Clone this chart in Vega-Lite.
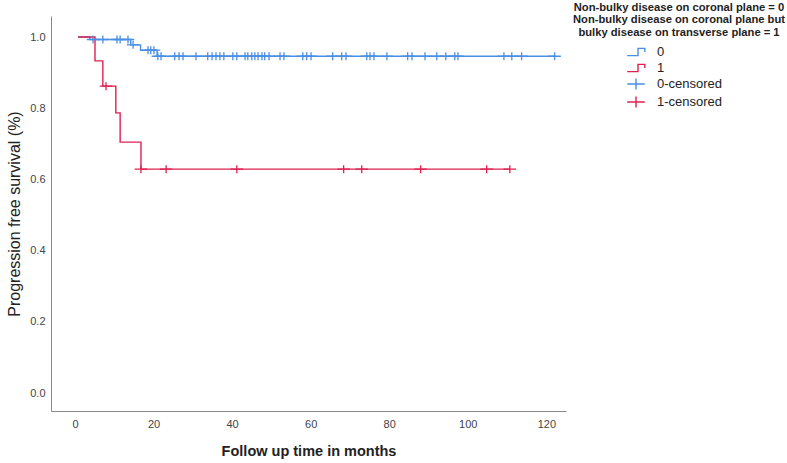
{
  "$schema": "https://vega.github.io/schema/vega-lite/v6.json",
  "width": 515,
  "height": 395,
  "autosize": {"type": "none"},
  "padding": {"left": 51, "top": 16, "right": 221, "bottom": 52},
  "background": "white",
  "title": {
    "text": ["Non-bulky disease on coronal plane = 0", "Non-bulky disease on coronal plane but", "bulky disease on transverse plane = 1"],
    "anchor": "start",
    "frame": "group",
    "align": "center",
    "dx": 628,
    "dy": 26,
    "offset": 4,
    "font": "Liberation Sans",
    "fontSize": 11.2,
    "fontWeight": "bold",
    "color": "#222222",
    "lineHeight": 12.5
  },
  "datasets": {
    "curves": [
      {"time": 0.8, "surv": 1.0, "label": "0"},
      {"time": 3.8, "surv": 0.993, "label": "0"},
      {"time": 14.2, "surv": 0.978, "label": "0"},
      {"time": 16.7, "surv": 0.963, "label": "0"},
      {"time": 20.9, "surv": 0.946, "label": "0"},
      {"time": 122.1, "surv": 0.946, "label": "0"},
      {"time": 0.8, "surv": 1.0, "label": "1"},
      {"time": 5.1, "surv": 0.933, "label": "1"},
      {"time": 7.1, "surv": 0.862, "label": "1"},
      {"time": 10.4, "surv": 0.787, "label": "1"},
      {"time": 11.5, "surv": 0.705, "label": "1"},
      {"time": 16.8, "surv": 0.629, "label": "1"},
      {"time": 110.7, "surv": 0.629, "label": "1"}
    ],
    "censored": [
      {"time": 4.6, "surv": 0.993, "label": "0-censored"},
      {"time": 7.1, "surv": 0.993, "label": "0-censored"},
      {"time": 10.7, "surv": 0.993, "label": "0-censored"},
      {"time": 11.5, "surv": 0.993, "label": "0-censored"},
      {"time": 13.5, "surv": 0.993, "label": "0-censored"},
      {"time": 14.8, "surv": 0.978, "label": "0-censored"},
      {"time": 18.6, "surv": 0.963, "label": "0-censored"},
      {"time": 19.3, "surv": 0.963, "label": "0-censored"},
      {"time": 20.1, "surv": 0.963, "label": "0-censored"},
      {"time": 21.1, "surv": 0.946, "label": "0-censored"},
      {"time": 21.9, "surv": 0.946, "label": "0-censored"},
      {"time": 25.4, "surv": 0.946, "label": "0-censored"},
      {"time": 26.5, "surv": 0.946, "label": "0-censored"},
      {"time": 27.5, "surv": 0.946, "label": "0-censored"},
      {"time": 30.8, "surv": 0.946, "label": "0-censored"},
      {"time": 33.8, "surv": 0.946, "label": "0-censored"},
      {"time": 34.9, "surv": 0.946, "label": "0-censored"},
      {"time": 35.9, "surv": 0.946, "label": "0-censored"},
      {"time": 36.9, "surv": 0.946, "label": "0-censored"},
      {"time": 37.9, "surv": 0.946, "label": "0-censored"},
      {"time": 40.2, "surv": 0.946, "label": "0-censored"},
      {"time": 41.2, "surv": 0.946, "label": "0-censored"},
      {"time": 43.3, "surv": 0.946, "label": "0-censored"},
      {"time": 44.0, "surv": 0.946, "label": "0-censored"},
      {"time": 45.0, "surv": 0.946, "label": "0-censored"},
      {"time": 45.8, "surv": 0.946, "label": "0-censored"},
      {"time": 46.6, "surv": 0.946, "label": "0-censored"},
      {"time": 47.6, "surv": 0.946, "label": "0-censored"},
      {"time": 48.3, "surv": 0.946, "label": "0-censored"},
      {"time": 49.4, "surv": 0.946, "label": "0-censored"},
      {"time": 52.2, "surv": 0.946, "label": "0-censored"},
      {"time": 53.2, "surv": 0.946, "label": "0-censored"},
      {"time": 58.0, "surv": 0.946, "label": "0-censored"},
      {"time": 59.0, "surv": 0.946, "label": "0-censored"},
      {"time": 60.1, "surv": 0.946, "label": "0-censored"},
      {"time": 65.6, "surv": 0.946, "label": "0-censored"},
      {"time": 67.9, "surv": 0.946, "label": "0-censored"},
      {"time": 69.0, "surv": 0.946, "label": "0-censored"},
      {"time": 74.3, "surv": 0.946, "label": "0-censored"},
      {"time": 75.1, "surv": 0.946, "label": "0-censored"},
      {"time": 76.1, "surv": 0.946, "label": "0-censored"},
      {"time": 79.4, "surv": 0.946, "label": "0-censored"},
      {"time": 84.7, "surv": 0.946, "label": "0-censored"},
      {"time": 85.8, "surv": 0.946, "label": "0-censored"},
      {"time": 89.1, "surv": 0.946, "label": "0-censored"},
      {"time": 92.1, "surv": 0.946, "label": "0-censored"},
      {"time": 94.4, "surv": 0.946, "label": "0-censored"},
      {"time": 96.7, "surv": 0.946, "label": "0-censored"},
      {"time": 97.5, "surv": 0.946, "label": "0-censored"},
      {"time": 109.2, "surv": 0.946, "label": "0-censored"},
      {"time": 111.2, "surv": 0.946, "label": "0-censored"},
      {"time": 113.7, "surv": 0.946, "label": "0-censored"},
      {"time": 122.1, "surv": 0.946, "label": "0-censored"},
      {"time": 7.9, "surv": 0.862, "label": "1-censored"},
      {"time": 16.8, "surv": 0.629, "label": "1-censored"},
      {"time": 23.2, "surv": 0.629, "label": "1-censored"},
      {"time": 41.2, "surv": 0.629, "label": "1-censored"},
      {"time": 68.4, "surv": 0.629, "label": "1-censored"},
      {"time": 73.0, "surv": 0.629, "label": "1-censored"},
      {"time": 88.0, "surv": 0.629, "label": "1-censored"},
      {"time": 104.8, "surv": 0.629, "label": "1-censored"},
      {"time": 110.7, "surv": 0.629, "label": "1-censored"}
    ]
  },
  "encoding": {
    "x": {
      "field": "time",
      "type": "quantitative",
      "scale": {"domain": [-6.1, 125], "nice": false, "zero": false},
      "axis": {
        "values": [0, 20, 40, 60, 80, 100, 120],
        "title": "Follow up time in months",
        "titleFontWeight": "bold",
        "titleFontSize": 14.5,
        "titlePadding": 15,
        "labelPadding": 7
      }
    },
    "y": {
      "field": "surv",
      "type": "quantitative",
      "scale": {"domain": [-0.05, 1.059], "nice": false, "zero": false},
      "axis": {
        "values": [0, 0.2, 0.4, 0.6, 0.8, 1.0],
        "format": ".1f",
        "title": "Progression free survival (%)",
        "titleFontWeight": "normal",
        "titleFontSize": 16,
        "titlePadding": 7,
        "labelPadding": 6
      }
    }
  },
  "layer": [
    {
      "data": {"name": "curves"},
      "transform": [{"filter": "datum.label == '0'"}],
      "mark": {"type": "line", "interpolate": "step-after", "strokeWidth": 1.4},
      "encoding": {
        "color": {
          "field": "label",
          "type": "nominal",
          "scale": {"domain": ["0", "1", "0-censored", "1-censored"], "range": ["#4a8fe3", "#e0204f", "#4a8fe3", "#e0204f"]},
          "legend": {"title": null}
        }
      }
    },
    {
      "data": {"name": "curves"},
      "transform": [{"filter": "datum.label == '1'"}],
      "mark": {"type": "line", "interpolate": "step-after", "strokeWidth": 1.4},
      "encoding": {
        "color": {"field": "label", "type": "nominal"}
      }
    },
    {
      "data": {"name": "censored"},
      "mark": {"type": "point", "filled": false, "strokeWidth": 1.3, "size": 130, "opacity": 1},
      "encoding": {
        "color": {"field": "label", "type": "nominal"},
        "shape": {
          "field": "label",
          "type": "nominal",
          "scale": {
            "domain": ["0", "1", "0-censored", "1-censored"],
            "range": ["M-1.1,0.45L0.25,0.45L0.25,-0.45L1.1,-0.45L1.1,0", "M-1.1,0.45L0.25,0.45L0.25,-0.45L1.1,-0.45L1.1,0", "M-1.1,0L1.1,0M0,-0.7L0,0.7", "M-1.1,0L1.1,0M0,-0.7L0,0.7"]
          },
          "legend": {"title": null}
        }
      }
    }
  ],
  "config": {
    "font": "Liberation Sans",
    "view": {"stroke": null},
    "axis": {
      "grid": false,
      "ticks": false,
      "domainColor": "#8a8a8a",
      "domainWidth": 1,
      "labelColor": "#444444",
      "labelFontSize": 11,
      "labelFont": "Liberation Sans",
      "titleFont": "Liberation Sans",
      "titleColor": "#222222"
    },
    "legend": {
      "orient": "none",
      "legendX": 576,
      "legendY": 27,
      "padding": 0,
      "title": null,
      "symbolSize": 256,
      "symbolStrokeWidth": 1.4,
      "labelFontSize": 13,
      "labelFont": "Liberation Sans",
      "labelColor": "#222222",
      "labelOffset": 12,
      "rowPadding": 0
    }
  }
}
